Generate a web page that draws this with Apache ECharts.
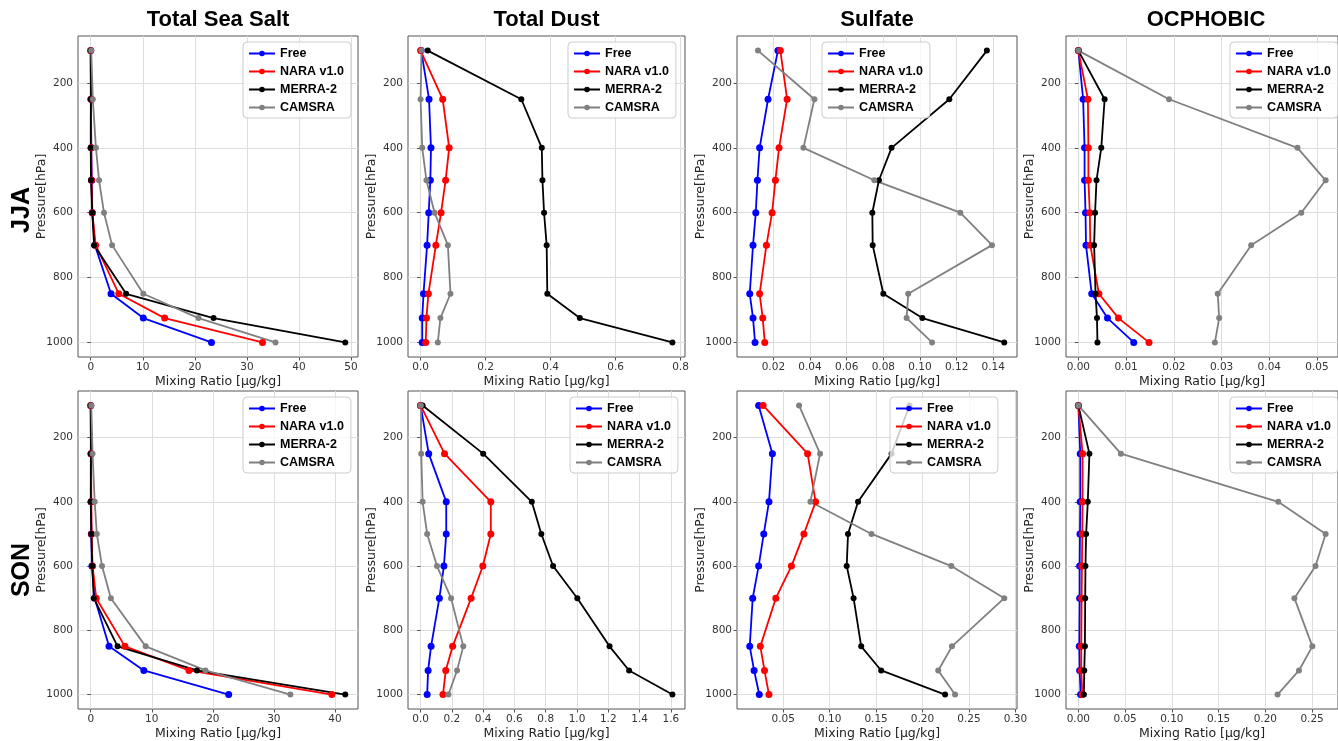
<!DOCTYPE html>
<html>
<head>
<meta charset="utf-8">
<script src="https://cdn.jsdelivr.net/npm/echarts@6/dist/echarts.min.js"></script>
<style>
  html, body { margin: 0; padding: 0; background: #fff; }
  #chart { width: 1338px; height: 741px; }
</style>
</head>
<body>
<div id="chart"></div>
<script>
// pressure levels [hPa]
var levels = [100, 250, 400, 500, 600, 700, 850, 925, 1000];
var seriesNames = ['Free', 'NARA v1.0', 'MERRA-2', 'CAMSRA'];
var columnTitles = ['Total Sea Salt', 'Total Dust', 'Sulfate', 'OCPHOBIC'];
var seasons = ['JJA', 'SON'];
var yTicks = [200, 400, 600, 800, 1000];

// each panel: [Free, NARA v1.0, MERRA-2, CAMSRA], values at levels
var seaSaltJJA = [
  [0, 0.05, 0.1, 0.2, 0.3, 0.8, 3.9, 10.1, 23.2],
  [0, 0.05, 0.1, 0.15, 0.3, 0.95, 5.4, 14.2, 33.0],
  [0, 0.02, 0.0, 0.05, 0.3, 0.65, 6.8, 23.6, 48.9],
  [0.1, 0.4, 1.0, 1.6, 2.55, 4.1, 10.1, 20.7, 35.5]
];
var dustJJA = [
  [0.002, 0.026, 0.032, 0.030, 0.025, 0.020, 0.009, 0.005, 0.005],
  [0.0, 0.068, 0.088, 0.077, 0.063, 0.047, 0.024, 0.018, 0.016],
  [0.022, 0.31, 0.373, 0.375, 0.38, 0.388, 0.39, 0.49, 0.775],
  [0.003, 0.0, 0.005, 0.018, 0.043, 0.084, 0.092, 0.061, 0.053]
];
var sulfateJJA = [
  [0.0225, 0.0171, 0.0125, 0.0113, 0.0104, 0.0089, 0.0071, 0.0089, 0.0100],
  [0.0238, 0.0275, 0.0231, 0.0211, 0.0193, 0.0162, 0.0125, 0.0142, 0.0153],
  [0.1365, 0.116, 0.0845, 0.0776, 0.074, 0.0742, 0.080, 0.1013, 0.146],
  [0.0116, 0.0424, 0.0364, 0.0751, 0.122, 0.1393, 0.0936, 0.0927, 0.1066]
];
var ocphobicJJA = [
  [0, 0.0010, 0.0013, 0.0013, 0.0015, 0.0016, 0.0028, 0.0061, 0.0116],
  [0, 0.0020, 0.0021, 0.0021, 0.0024, 0.0025, 0.0043, 0.0084, 0.0148],
  [0, 0.0055, 0.0048, 0.0038, 0.0035, 0.0033, 0.0036, 0.0039, 0.0040],
  [0, 0.019, 0.0459, 0.0518, 0.0467, 0.0362, 0.0292, 0.0295, 0.0286]
];
var seaSaltSON = [
  [0, 0.05, 0.05, 0.1, 0.2, 0.65, 3.0, 8.7, 22.6],
  [0, 0.05, 0.1, 0.15, 0.3, 0.9, 5.6, 16.1, 39.5],
  [0, 0.02, 0.0, 0.1, 0.25, 0.5, 4.4, 17.4, 41.7],
  [0.1, 0.3, 0.65, 1.0, 1.85, 3.3, 9.0, 18.8, 32.7]
];
var dustSON = [
  [0.0, 0.052, 0.164, 0.164, 0.149, 0.12, 0.067, 0.048, 0.042],
  [0.0, 0.153, 0.449, 0.449, 0.398, 0.323, 0.205, 0.161, 0.143],
  [0.013, 0.40, 0.711, 0.772, 0.847, 1.002, 1.208, 1.333, 1.61],
  [0.002, 0.004, 0.013, 0.042, 0.105, 0.195, 0.273, 0.233, 0.178]
];
var sulfateSON = [
  [0.0236, 0.0384, 0.0347, 0.0291, 0.0236, 0.0172, 0.0140, 0.0187, 0.0243],
  [0.0284, 0.0763, 0.0849, 0.0723, 0.0589, 0.0421, 0.0254, 0.0299, 0.0347],
  [0.186, 0.1667, 0.1306, 0.1198, 0.1184, 0.1258, 0.134, 0.1555, 0.2243],
  [0.0671, 0.0897, 0.0793, 0.1451, 0.231, 0.288, 0.2317, 0.2169, 0.235]
];
var ocphobicSON = [
  [0, 0.002, 0.002, 0.0017, 0.0014, 0.0014, 0.001, 0.0014, 0.0024],
  [0, 0.0045, 0.0045, 0.0042, 0.0038, 0.0035, 0.0031, 0.0031, 0.0042],
  [0, 0.0118, 0.0101, 0.0083, 0.0076, 0.0073, 0.007, 0.0063, 0.0059],
  [0, 0.0455, 0.2138, 0.2645, 0.2537, 0.2311, 0.2503, 0.236, 0.2131]
];

var panels = [seaSaltJJA, dustJJA, sulfateJJA, ocphobicJJA, seaSaltSON, dustSON, sulfateSON, ocphobicSON];
var xSteps = [10, 0.2, 0.02, 0.01, 10, 0.2, 0.05, 0.05];
var xDecimals = [0, 1, 2, 2, 0, 1, 2, 2];

// layout
var colLeft = [78, 408, 737, 1066];
var colWidth = [280, 277, 280, 280];
var rowTop = [36, 391];
var rowHeight = [321, 322];
var legendLeft = [[243, 568, 822, 1230], [243, 570, 890, 1230]];
var lineColors = ['#0000ff', '#ff0000', '#000000', '#808080'];
var markerSizes = [7, 7, 6, 6];

var tickFont = 'DejaVu Sans';
var boldFont = 'Liberation Sans';

var grids = [], xAxes = [], yAxes = [], series = [], legends = [], titles = [];

panels.forEach(function (panel, i) {
  var r = Math.floor(i / 4), c = i % 4;
  var all = [].concat.apply([], panel);
  var lo = Math.min.apply(null, all), hi = Math.max.apply(null, all);
  var pad = (hi - lo) * 0.05;
  var xmin = lo - pad, xmax = hi + pad;
  var step = xSteps[i];
  var ticks = [];
  for (var k = Math.ceil(xmin / step - 1e-9); k * step <= xmax + 1e-12; k++) {
    ticks.push(+(k * step).toFixed(6));
  }
  var dec = xDecimals[i];

  grids.push({
    left: colLeft[c], top: rowTop[r], width: colWidth[c], height: rowHeight[r],
    show: true, borderColor: '#555', borderWidth: 1, backgroundColor: 'transparent'
  });
  xAxes.push({
    gridIndex: i, type: 'value', min: xmin, max: xmax, position: 'bottom',
    axisLine: { show: false },
    axisTick: { show: true, customValues: ticks, length: 3.5, lineStyle: { color: '#555' } },
    axisLabel: {
      customValues: ticks, margin: 5, fontSize: 10.5, color: '#333', fontFamily: tickFont,
      formatter: function (v) { return v.toFixed(dec); }
    },
    splitLine: { show: true, lineStyle: { color: '#dddddd', width: 1 } },
    name: 'Mixing Ratio [μg/kg]', nameLocation: 'middle', nameGap: 18, nameMoveOverlap: false,
    nameTextStyle: { fontSize: 12.5, color: '#222', fontFamily: tickFont }
  });
  yAxes.push({
    gridIndex: i, type: 'value', inverse: true, min: 55, max: 1045,
    axisLine: { show: false },
    axisTick: { show: true, customValues: yTicks, length: 3.5, lineStyle: { color: '#555' } },
    axisLabel: {
      customValues: yTicks, margin: 5, fontSize: 10.5, color: '#333', fontFamily: tickFont,
      formatter: function (v) { return String(v); }
    },
    splitLine: { show: true, lineStyle: { color: '#dddddd', width: 1 } },
    name: 'Pressure[hPa]', nameLocation: 'middle', nameGap: 30, nameMoveOverlap: false,
    nameTextStyle: { fontSize: 12.5, color: '#222', fontFamily: tickFont }
  });

  panel.forEach(function (vals, s) {
    series.push({
      type: 'line', name: seriesNames[s], xAxisIndex: i, yAxisIndex: i,
      data: levels.map(function (p, k) { return [vals[k], p]; }),
      symbol: 'circle', symbolSize: markerSizes[s], showSymbol: true,
      lineStyle: { color: lineColors[s], width: 1.8 },
      itemStyle: { color: lineColors[s] },
      animation: false
    });
  });

  legends.push({
    data: seriesNames, orient: 'vertical', left: legendLeft[r][c], top: rowTop[r] + 6,
    itemWidth: 26, itemHeight: 7, itemGap: 3, padding: [4, 7, 3, 5],
    backgroundColor: 'rgba(255,255,255,0.8)', borderColor: '#cccccc', borderWidth: 1, borderRadius: 4,
    selectedMode: false,
    textStyle: { fontFamily: boldFont, fontWeight: 'bold', fontSize: 12.5, color: '#000', lineHeight: 15 }
  });
});

columnTitles.forEach(function (t, c) {
  titles.push({
    text: t, left: colLeft[c] + colWidth[c] / 2, top: 9, textAlign: 'center', padding: 0,
    textStyle: { fontFamily: boldFont, fontWeight: 'bold', fontSize: 22, color: '#000' }
  });
});

var rowLabelY = [210, 570];
var graphics = seasons.map(function (s, r) {
  return {
    type: 'text', x: 22, y: rowLabelY[r], rotation: Math.PI / 2,
    style: { text: s, font: 'bold 25px "Liberation Sans"', align: 'center', verticalAlign: 'middle', fill: '#000' }
  };
});

var myChart = echarts.init(document.getElementById('chart'));
myChart.setOption({
  animation: false,
  backgroundColor: '#fff',
  title: titles,
  legend: legends,
  grid: grids,
  xAxis: xAxes,
  yAxis: yAxes,
  series: series,
  graphic: graphics
});
</script>
</body>
</html>
